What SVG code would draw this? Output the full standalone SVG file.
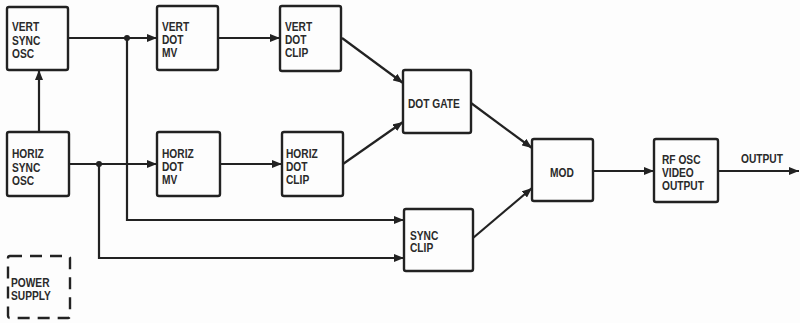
<svg xmlns="http://www.w3.org/2000/svg" width="800" height="323" viewBox="0 0 800 323">
<style>
.box{fill:none;stroke:#222;stroke-width:2.4}
.dash{fill:none;stroke:#222;stroke-width:2.4;stroke-dasharray:12 8}
.ln{fill:none;stroke:#222;stroke-width:2.2}
.t{font-family:"Liberation Sans",Arial,sans-serif;font-size:12px;font-weight:bold;fill:#2a2a2a}
</style>
<defs>
<marker id="ah" markerWidth="10" markerHeight="8" refX="10" refY="4" orient="auto" markerUnits="userSpaceOnUse">
<path d="M0,0 L10,4 L0,8 Z" fill="#222"/>
</marker>
</defs>
<rect width="800" height="323" fill="#fdfdfd"/>
<g id="vert-sync-osc"><rect class="box" x="7" y="7" width="61" height="63" rx="2"/><text class="t" transform="translate(12,0) scale(0.85,1)"><tspan x="0" y="31">VERT</tspan><tspan x="0" y="45">SYNC</tspan><tspan x="0" y="58">OSC</tspan></text></g>
<g id="horiz-sync-osc"><rect class="box" x="7" y="132" width="62" height="64" rx="2"/><text class="t" transform="translate(12,0) scale(0.85,1)"><tspan x="0" y="158">HORIZ</tspan><tspan x="0" y="172">SYNC</tspan><tspan x="0" y="185">OSC</tspan></text></g>
<g id="vert-dot-mv"><rect class="box" x="157" y="6" width="61" height="64" rx="2"/><text class="t" transform="translate(162,0) scale(0.85,1)"><tspan x="0" y="31">VERT</tspan><tspan x="0" y="44">DOT</tspan><tspan x="0" y="57">MV</tspan></text></g>
<g id="horiz-dot-mv"><rect class="box" x="157" y="132" width="63" height="64" rx="2"/><text class="t" transform="translate(162,0) scale(0.85,1)"><tspan x="0" y="158">HORIZ</tspan><tspan x="0" y="171">DOT</tspan><tspan x="0" y="184">MV</tspan></text></g>
<g id="vert-dot-clip"><rect class="box" x="280" y="6" width="61" height="65" rx="2"/><text class="t" transform="translate(285,0) scale(0.85,1)"><tspan x="0" y="31">VERT</tspan><tspan x="0" y="44">DOT</tspan><tspan x="0" y="57">CLIP</tspan></text></g>
<g id="horiz-dot-clip"><rect class="box" x="282" y="132" width="61" height="64" rx="2"/><text class="t" transform="translate(286,0) scale(0.85,1)"><tspan x="0" y="158">HORIZ</tspan><tspan x="0" y="171">DOT</tspan><tspan x="0" y="184">CLIP</tspan></text></g>
<g id="dot-gate"><rect class="box" x="403" y="70" width="68" height="63" rx="2"/><text class="t" transform="translate(408,0) scale(0.85,1)"><tspan x="0" y="108">DOT GATE</tspan></text></g>
<g id="sync-clip"><rect class="box" x="404" y="209" width="69" height="62" rx="2"/><text class="t" transform="translate(410,0) scale(0.85,1)"><tspan x="0" y="240">SYNC</tspan><tspan x="0" y="252">CLIP</tspan></text></g>
<g id="mod"><rect class="box" x="532" y="139" width="61" height="62" rx="2"/><text class="t" transform="translate(550,0) scale(0.85,1)"><tspan x="0" y="177">MOD</tspan></text></g>
<g id="rf-osc"><rect class="box" x="654" y="139" width="64" height="63" rx="2"/><text class="t" transform="translate(662,0) scale(0.85,1)"><tspan x="0" y="164">RF OSC</tspan><tspan x="0" y="177">VIDEO</tspan><tspan x="0" y="190">OUTPUT</tspan></text></g>
<g id="power-supply"><rect class="dash" x="8" y="256" width="62" height="62" rx="2"/><text class="t" transform="translate(11,0) scale(0.85,1)"><tspan x="0" y="287">POWER</tspan><tspan x="0" y="300">SUPPLY</tspan></text></g>
<g id="connectors">
<path class="ln" d="M68,38 H157" marker-end="url(#ah)"/>
<path class="ln" d="M127,38 V220 H404" marker-end="url(#ah)"/>
<path class="ln" d="M39,132 V70" marker-end="url(#ah)"/>
<path class="ln" d="M69,164 H157" marker-end="url(#ah)"/>
<path class="ln" d="M99,164 V258 H404" marker-end="url(#ah)"/>
<path class="ln" d="M218,38 H280" marker-end="url(#ah)"/>
<path class="ln" d="M220,164 H282" marker-end="url(#ah)"/>
<path class="ln" d="M342,38 L403,83" marker-end="url(#ah)"/>
<path class="ln" d="M343,164 L403,122" marker-end="url(#ah)"/>
<path class="ln" d="M471,103 L532,148" marker-end="url(#ah)"/>
<path class="ln" d="M473,238 L532,188" marker-end="url(#ah)"/>
<path class="ln" d="M593,171 H654" marker-end="url(#ah)"/>
<path class="ln" d="M718,171 H799" marker-end="url(#ah)"/>
<circle cx="127" cy="38" r="3" fill="#222"/>
<circle cx="99" cy="164" r="3" fill="#222"/>
<text class="t" transform="translate(741,0) scale(0.85,1)"><tspan x="0" y="163">OUTPUT</tspan></text>
</g>
</svg>
